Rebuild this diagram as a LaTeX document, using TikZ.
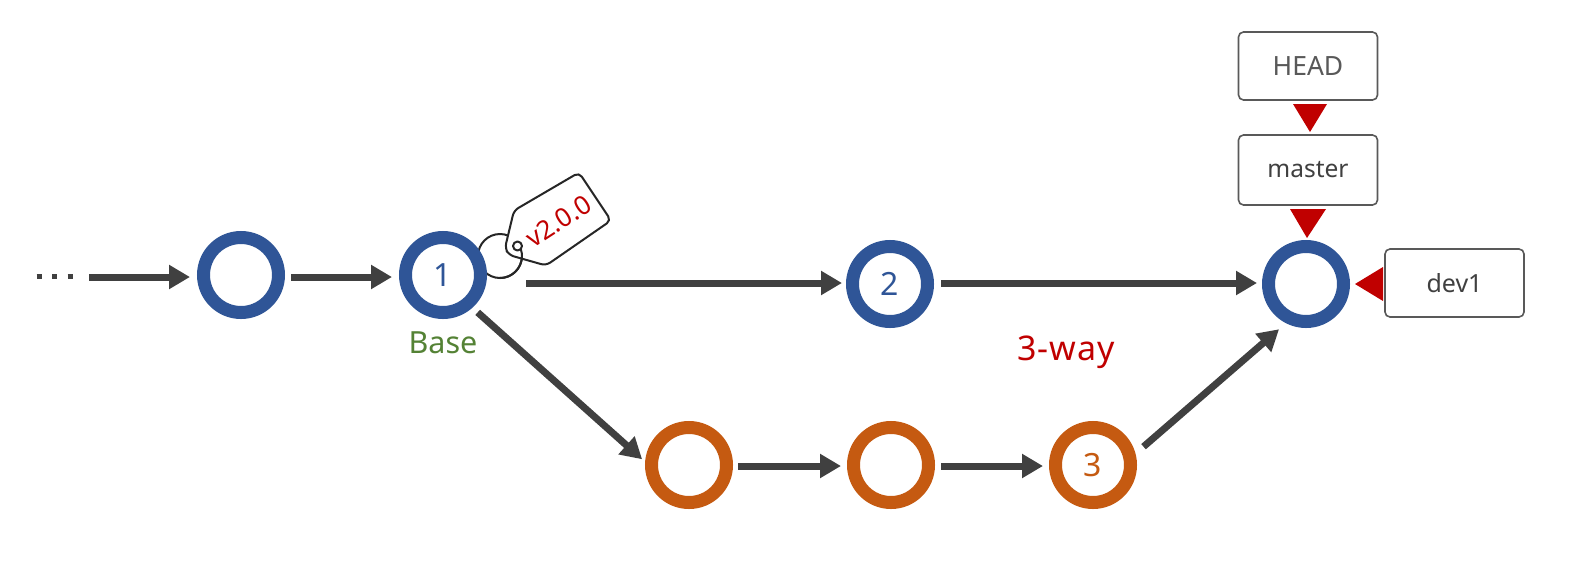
\documentclass[tikz,border=0pt]{standalone}
\usepackage{fontspec}
\setmainfont{Noto Sans}
\usetikzlibrary{arrows.meta}
\definecolor{ringblue}{HTML}{2F5597}
\definecolor{ringorange}{HTML}{C55A11}
\definecolor{flowgray}{HTML}{404040}
\definecolor{pointerred}{HTML}{C00000}
\definecolor{basegreen}{HTML}{548235}
\definecolor{boxgray}{HTML}{595959}
\tikzset{
  x=1pt,y=-1pt,
  commit/.style={circle,draw,line width=13pt,fill=white,minimum size=75pt,inner sep=0pt,outer sep=6.5pt,font=\fontsize{32}{36}\selectfont},
  bluecommit/.style={commit,draw=ringblue,text=ringblue},
  orangecommit/.style={commit,draw=ringorange,text=ringorange},
  flow/.style={draw=flowgray,line width=7pt,-{Triangle[length=21pt,width=23pt]}},
  refbox/.style={draw=boxgray,line width=1.6pt,rounded corners=5pt,fill=white,minimum width=139pt,minimum height=68pt,inner sep=0pt},
  pointer/.style={fill=pointerred,draw=none},
  taglabel/.style={text=pointerred,font=\fontsize{26}{30}\selectfont,rotate=33,inner sep=0pt},
  tagline/.style={draw=black!85,line width=2pt,line join=round}
}
\begin{document}
\begin{tikzpicture}
\useasboundingbox[fill=white] (0,0) rectangle (1569,576);

% tag string behind the commit ring
\draw[tagline] (500,256) circle[radius=22];

\node[bluecommit] (c0) at (241,275) {};
\node[bluecommit] (c1) at (443,275) {1};
\node[bluecommit] (c2) at (890,284) {2};
\node[bluecommit] (m)  at (1306,284) {};
\node[orangecommit] (o1) at (689,465) {};
\node[orangecommit] (o2) at (891,465) {};
\node[orangecommit] (o3) at (1093,465) {3};

% tag
\draw[tagline,fill=white,rounded corners=5pt]
  (514,210.5) -- (579,172.5) -- (611,220.5) -- (546,265.5) -- (509,255) -- (505,248) -- cycle;
\draw[tagline] (519,245) arc[start angle=-30,end angle=90,radius=22];
\draw[tagline,fill=white] (517.5,246) circle[radius=4.5];
\node[taglabel] (tag) at (558.5,221) {v2.0.0};

\node[text=basegreen,font=\fontsize{30.5}{34}\selectfont] (base) at (443,343) {Base};
\node[text=pointerred,font=\fontsize{34}{38}\selectfont\addfontfeature{LetterSpace=3}] (way) at (1066,352) {3-way};

\node[refbox,text=boxgray,font=\fontsize{26.5}{30}\selectfont] (head) at (1308,66) {HEAD};
\node[refbox,text=flowgray,minimum height=70pt,font=\fontsize{24.5}{30}\selectfont] (master) at (1308,170) {master};
\node[refbox,text=flowgray,font=\fontsize{25}{30}\selectfont] (dev) at (1454.5,283) {dev1};

\path[pointer] (1293,104) -- (1327,104) -- (1310,132) -- cycle;
\path[pointer] (1290,209) -- (1326,209) -- (1307,238) -- cycle;
\path[pointer] (1383,267) -- (1383,301) -- (1355,284) -- cycle;

% leading dots and free ends of the connectors
\draw[draw=flowgray,line width=5pt,dash pattern=on 5pt off 10.5pt] (36.5,276) -- (73,276);
\coordinate (start) at (89,277);
\coordinate (c1out) at (526,283);

\draw[flow,shorten >=7pt] (start) -- ([yshift=-2pt]c0.west);
\draw[flow,shorten <=6pt,shorten >=7pt] ([yshift=-2pt]c0.east) -- ([yshift=-2pt]c1.west);
\draw[flow,shorten >=4pt] (c1out) -- ([yshift=1pt]c2.west);
\draw[flow,shorten <=7pt,shorten >=5pt] ([yshift=1pt]c2.east) -- ([yshift=1pt]m.west);
\draw[flow,shorten <=7pt,shorten >=4pt] (c1.-48) -- (o1.176);
\draw[flow,shorten <=5pt,shorten >=6pt] ([yshift=-1pt]o1.east) -- ([yshift=-1pt]o2.west);
\draw[flow,shorten <=6pt,shorten >=6pt] ([yshift=-1pt]o2.east) -- ([yshift=-1pt]o3.west);
\draw[flow,shorten <=10.6pt,shorten >=9.2pt] (o3.15.6) -- (m.-117);
\end{tikzpicture}
\end{document}
